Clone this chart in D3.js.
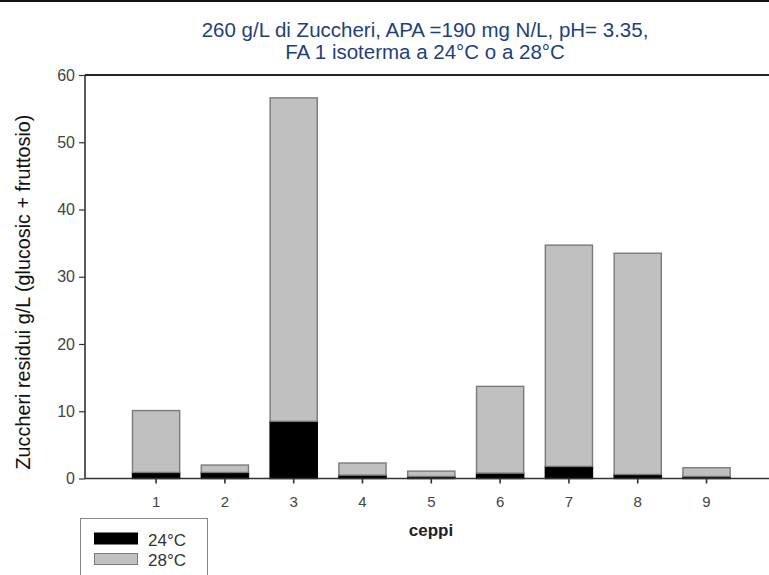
<!DOCTYPE html>
<html><head><meta charset="utf-8">
<script src="https://cdn.jsdelivr.net/npm/d3@7"></script>
<style>body{margin:0;background:#fff}svg{display:block}</style>
</head><body>
<script>
const categories = ["1","2","3","4","5","6","7","8","9"];
const seriesNames = ["24°C","28°C"];
const val24 = [0.9, 0.9, 8.5, 0.5, 0.3, 0.8, 1.8, 0.6, 0.3];
const val28 = [9.2, 1.1, 48.1, 1.8, 0.8, 12.9, 32.9, 32.9, 1.3];
const yTicks = [0,10,20,30,40,50,60];
const titleLines = ["260 g/L di Zuccheri, APA =190 mg N/L, pH= 3.35,", "FA 1 isoterma a 24°C o a 28°C"];
const yLabel = "Zuccheri residui g/L (glucosic + fruttosio)";
const xLabel = "ceppi";

const W = 769, H = 575;
const svg = d3.select("body").append("svg").attr("width", W).attr("height", H);
const font = "'Liberation Sans', Arial, sans-serif";

// page top border
svg.append("rect").attr("x",0).attr("y",0).attr("width",W).attr("height",2).attr("fill","#111");

const x = d3.scaleBand().domain(categories).range([85, 777.6]).paddingInner(0.3).paddingOuter(0.683);
const y = d3.scaleLinear().domain([0,60]).range([478.5, 75]);

const table = categories.map((c,i)=>({cat:c, "24°C":val24[i], "28°C":val28[i]}));
const stacked = d3.stack().keys(seriesNames)(table);
const fills = {"24°C":"#000000","28°C":"#c0c0c0"};
const strokes = {"24°C":"#000000","28°C":"#7a7a7a"};

// bars
stacked.forEach(layer=>{
  svg.append("g").selectAll("rect").data(layer).join("rect")
    .attr("x", d=>x(d.data.cat)+0.5)
    .attr("y", d=>y(d[1]))
    .attr("width", x.bandwidth()-1)
    .attr("height", d=>y(d[0])-y(d[1]))
    .attr("fill", fills[layer.key])
    .attr("stroke", strokes[layer.key])
    .attr("stroke-width", 1.4);
});

// top frame line
svg.append("line").attr("x1",85).attr("x2",W).attr("y1",y(60)).attr("y2",y(60))
  .attr("stroke","#222").attr("stroke-width",1.8);

// y axis
const yAxis = d3.axisLeft(y).tickValues(yTicks).tickSize(6).tickPadding(4).tickFormat(d3.format("d"));
const gy = svg.append("g").attr("transform","translate(85,0)").call(yAxis);
gy.select(".domain").attr("stroke","#333").attr("stroke-width",1.6).attr("d", `M0,${y(60)}V${y(0)}`);
gy.selectAll(".tick line").attr("stroke","#333").attr("stroke-width",1.2);
gy.selectAll(".tick text").attr("font-family",font).style("font-size","16px").attr("fill","#444");

// x axis
const xAxis = d3.axisBottom(x).tickSize(5).tickPadding(13);
const gx = svg.append("g").attr("transform",`translate(0,${y(0)})`).call(xAxis);
gx.select(".domain").attr("d", `M85,0H${W}`).attr("stroke","#333").attr("stroke-width",1.6);
gx.selectAll(".tick line").attr("stroke","#333").attr("stroke-width",1.6);
gx.selectAll(".tick text").attr("font-family",font).style("font-size","15px").attr("fill","#444");

// titles
svg.append("g").selectAll("text").data(titleLines).join("text")
  .attr("x",425).attr("y",(d,i)=>37+i*21.5).attr("text-anchor","middle")
  .attr("font-family",font).attr("font-size",20.5).attr("fill","#1f3f7a").text(d=>d);

// y label
svg.append("text").attr("transform","translate(30,292) rotate(-90)").attr("text-anchor","middle")
  .attr("font-family",font).attr("font-size",19.8).attr("fill","#111").text(yLabel);

// x label
svg.append("text").attr("x",431).attr("y",536).attr("text-anchor","middle")
  .attr("font-family",font).attr("font-size",17).attr("font-weight","bold").attr("fill","#222").text(xLabel);

// legend
const lg = svg.append("g");
lg.append("rect").attr("x",80.5).attr("y",518.5).attr("width",127).attr("height",70)
  .attr("fill","#fff").attr("stroke","#888");
seriesNames.forEach((s,i)=>{
  lg.append("rect").attr("x",94.5).attr("y",533+i*20.5).attr("width",43).attr("height",11)
    .attr("fill",fills[s]).attr("stroke",strokes[s]);
  lg.append("text").attr("x",148).attr("y",545.5+i*20.5)
    .attr("font-family",font).attr("font-size",17).attr("fill","#333").text(s);
});
</script>
</body></html>
